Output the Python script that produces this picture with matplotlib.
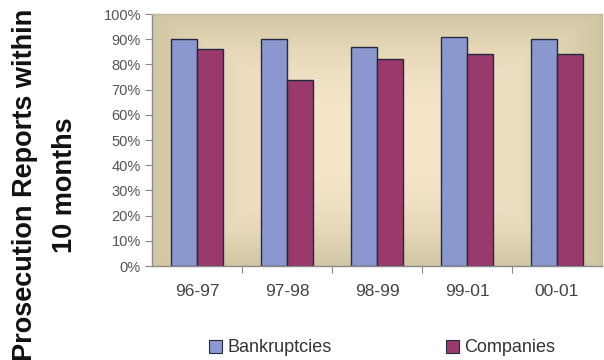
import numpy as np
import matplotlib
matplotlib.use("Agg")
import matplotlib.pyplot as plt
from matplotlib.patches import Patch
from matplotlib.ticker import FixedLocator, PercentFormatter

# Data
periods = ["96-97", "97-98", "98-99", "99-01", "00-01"]
bankruptcies = [90, 90, 87, 91, 90]
companies = [86, 74, 82, 84, 84]
series_names = ["Bankruptcies", "Companies"]

plt.rcParams["font.family"] = ["Liberation Sans", "DejaVu Sans"]

fig = plt.figure(figsize=(6.04, 3.60), dpi=100)
fig.patch.set_facecolor("white")
ax = fig.add_axes([152 / 604, 94 / 360, 450 / 604, 252 / 360])

# Gradient plot-area fill: cream centre fading to tan at the edges
n = 200
u = np.linspace(-1, 1, n)
U, V = np.meshgrid(u, u)
t = np.maximum(np.abs(U), np.abs(V)) ** 2.5
centre = np.array([0.965, 0.900, 0.790])
edge = np.array([0.815, 0.775, 0.635])
img = centre[None, None, :] + (edge - centre)[None, None, :] * t[..., None]
ax.imshow(img, extent=(-0.5, 4.5, 0, 100), aspect="auto", zorder=0, interpolation="bilinear")

x = np.arange(len(periods))
w = 0.29
bank_color = "#8b98d0"
comp_color = "#9a3a6c"
edge_color = "#232a40"
ax.bar(x - w / 2, bankruptcies, w, color=bank_color, edgecolor=edge_color, linewidth=1.0, zorder=2)
ax.bar(x + w / 2, companies, w, color=comp_color, edgecolor=edge_color, linewidth=1.0, zorder=2)

ax.set_xlim(-0.5, 4.5)
ax.set_ylim(0, 100)
ax.set_yticks(np.arange(0, 101, 10))
ax.yaxis.set_major_formatter(PercentFormatter(decimals=0))
ax.set_xticks(x)
ax.set_xticklabels(periods)
ax.xaxis.set_minor_locator(FixedLocator([0.5, 1.5, 2.5, 3.5]))
ax.tick_params(axis="x", which="major", length=0, pad=13, labelsize=12.5, labelcolor="#444444")
ax.tick_params(axis="x", which="minor", length=5, color="#888888", width=0.8)
ax.tick_params(axis="y", length=5, color="#888888", width=0.8, pad=3, labelsize=10.5, labelcolor="#555555")

for side in ("left", "bottom"):
    ax.spines[side].set_color("#8a8a8a")
    ax.spines[side].set_linewidth(1.0)
for side in ("top", "right"):
    ax.spines[side].set_color("#c2baa2")
    ax.spines[side].set_linewidth(1.0)

fig.text(45 / 604, 1 - 185 / 360, "Prosecution Reports within\n10 months",
         rotation=90, ha="center", va="center", multialignment="center",
         fontsize=19.5, fontweight="bold", color="#111111", linespacing=1.65)

handles = [Patch(facecolor=bank_color, edgecolor=edge_color, linewidth=0.8),
           Patch(facecolor=comp_color, edgecolor=edge_color, linewidth=0.8)]
leg = fig.legend(handles, series_names, loc="center", bbox_to_anchor=(382 / 604, 1 - 348 / 360),
                 ncol=2, frameon=False, fontsize=13, handlelength=0.75, handleheight=0.75,
                 handletextpad=0.3, columnspacing=6.3, labelcolor="#333333")

fig.savefig("out.png", dpi=100, facecolor="white")
